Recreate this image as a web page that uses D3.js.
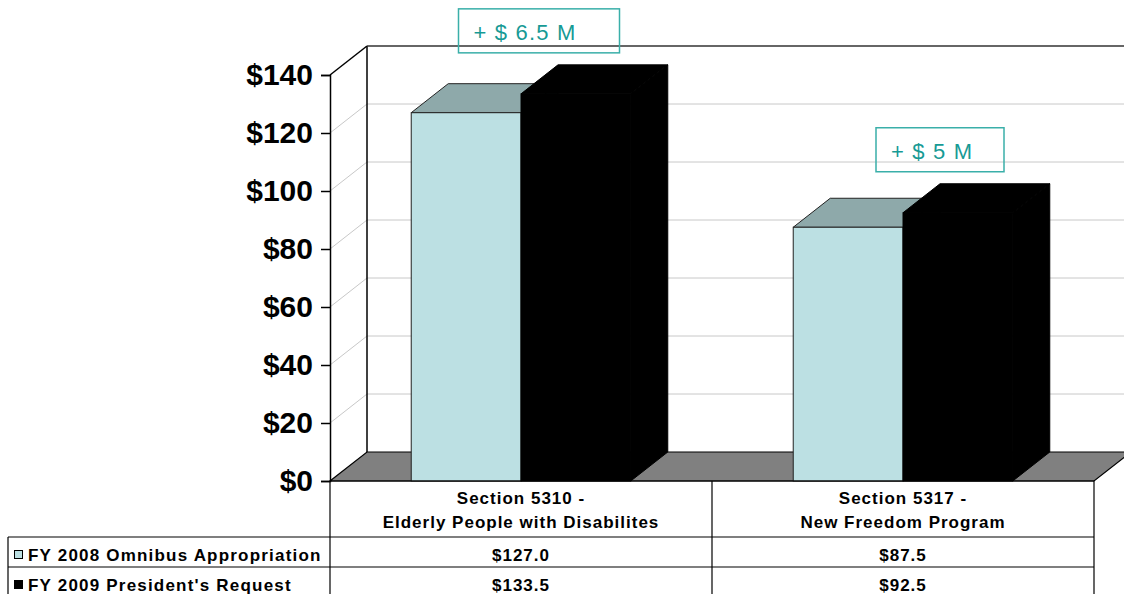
<!DOCTYPE html>
<html><head><meta charset="utf-8">
<script src="https://cdn.jsdelivr.net/npm/d3@7"></script>
<style>body{margin:0;background:#fff}svg{display:block}</style>
</head><body>
<svg id="c" width="1124" height="594"></svg>
<script>
// ---- data ----
const categoryLines = [["Section 5310 -", "Elderly People with Disabilites"], ["Section 5317 -", "New Freedom Program"]];
const seriesNames = ["FY 2008 Omnibus Appropriation", "FY 2009 President's Request"];
const fy2008 = [127.0, 87.5];
const fy2009 = [133.5, 92.5];
const yTicks = [0, 20, 40, 60, 80, 100, 120, 140];
const annotationTexts = ["+ $ 6.5 M", "+ $ 5 M"];

// ---- layout ----
const svg = d3.select("#c");
const FONT = "Arial, 'Liberation Sans', sans-serif";
const DX = 37, DY = -29;
const y = d3.scaleLinear().domain([0, 140]).range([481, 75]);
const xCat = d3.scaleBand().domain(d3.range(categoryLines.length)).range([330, 1094]);
const xSer = d3.scaleBand().domain([0, 1]).range([0, xCat.bandwidth()]).paddingInner(0).paddingOuter(0.74);
const seriesVals = [fy2008, fy2009];
const colors = [
  {front: "#BCE0E3", top: "#8EA9AA", side: "#6F8E90", stroke: "#222"},
  {front: "#000", top: "#000", side: "#000", stroke: "#000"}
];
const x0 = 330, x1 = 1094;

// gridlines (side wall diagonal + back wall)
const grid = svg.append("g");
yTicks.filter(t => t > 0 && t < 140).forEach(t => {
  grid.append("line").attr("x1", x0).attr("y1", y(t)).attr("x2", x0 + DX).attr("y2", y(t) + DY)
    .attr("stroke", "#c8c8c8").attr("stroke-width", 1);
  grid.append("line").attr("x1", x0 + DX).attr("y1", y(t) + DY).attr("x2", 1124).attr("y2", y(t) + DY)
    .attr("stroke", "#c8c8c8").attr("stroke-width", 1);
});
// walls
svg.append("line").attr("x1", x0 + DX).attr("y1", y(140) + DY).attr("x2", x0 + DX).attr("y2", y(0) + DY).attr("stroke", "#000").attr("stroke-width", 1.5);
svg.append("line").attr("x1", x0 + DX).attr("y1", y(140) + DY).attr("x2", 1124).attr("y2", y(140) + DY).attr("stroke", "#333").attr("stroke-width", 1.5);
svg.append("line").attr("x1", x0).attr("y1", y(140)).attr("x2", x0 + DX).attr("y2", y(140) + DY).attr("stroke", "#000").attr("stroke-width", 1.5);
// floor
svg.append("polygon")
  .attr("points", [[x0, y(0)], [x1, y(0)], [x1 + DX, y(0) + DY], [x0 + DX, y(0) + DY]].map(p => p.join(",")).join(" "))
  .attr("fill", "#808080").attr("stroke", "#000").attr("stroke-width", 1.2);

// bars
const bars = svg.append("g");
categoryLines.forEach((c, ci) => {
  seriesVals.forEach((vals, si) => {
    const v = vals[ci];
    const a = xCat(ci) + xSer(si), b = a + xSer.bandwidth();
    const yt = y(v), yb = y(0);
    const col = colors[si];
    bars.append("polygon").attr("points", [[b, yt], [b + DX, yt + DY], [b + DX, yb + DY], [b, yb]].map(p => p.join(",")).join(" "))
      .attr("fill", col.side).attr("stroke", col.stroke).attr("stroke-width", 1);
    bars.append("polygon").attr("points", [[a, yt], [b, yt], [b + DX, yt + DY], [a + DX, yt + DY]].map(p => p.join(",")).join(" "))
      .attr("fill", col.top).attr("stroke", col.stroke).attr("stroke-width", 1);
    bars.append("rect").attr("x", a).attr("y", yt).attr("width", b - a).attr("height", yb - yt)
      .attr("fill", col.front).attr("stroke", col.stroke).attr("stroke-width", 1);
  });
});

// front axis
const axis = d3.axisLeft(y).tickValues(yTicks).tickSize(9).tickPadding(8).tickFormat(d => "$" + d);
const ax = svg.append("g").attr("transform", `translate(${x0},0)`).call(axis);
ax.select(".domain").attr("stroke", "#000").attr("stroke-width", 1.5);
ax.selectAll(".tick line").attr("stroke", "#000").attr("stroke-width", 1.5);
ax.selectAll(".tick text").attr("font-family", FONT).attr("font-size", 30).attr("font-weight", "bold").attr("fill", "#000");

// annotations
const annDx = [18, 37], annW = [161, 128], annH = 44, annGap = 12;
annotationTexts.forEach((t, i) => {
  const top = y(Math.max(fy2008[i], fy2009[i])) + DY - annGap - annH;
  const cx = xCat(i) + xCat.bandwidth() / 2 + annDx[i];
  const left = cx - annW[i] / 2;
  svg.append("rect").attr("x", left).attr("y", top).attr("width", annW[i]).attr("height", annH)
    .attr("fill", "none").attr("stroke", "#3AAFA9").attr("stroke-width", 1.5);
  svg.append("text").attr("x", left + 15).attr("y", top + 31).text(t)
    .attr("font-family", FONT).attr("font-size", 22).attr("letter-spacing", 1.2).attr("fill", "#179A95");
});

// data table
const tbl = svg.append("g").attr("stroke", "#000").attr("stroke-width", 1.2);
const rowY = [481, 537, 567, 597];
tbl.append("line").attr("x1", x0).attr("x2", x1).attr("y1", rowY[0]).attr("y2", rowY[0]);
[1, 2, 3].forEach(r => tbl.append("line").attr("x1", 8).attr("x2", x1).attr("y1", rowY[r]).attr("y2", rowY[r]));
[x0, xCat(1), x1].forEach(xx => tbl.append("line").attr("x1", xx).attr("x2", xx).attr("y1", rowY[0]).attr("y2", rowY[3]));
tbl.append("line").attr("x1", 8).attr("x2", 8).attr("y1", rowY[1]).attr("y2", rowY[3]);

const txt = svg.append("g").attr("font-family", FONT).attr("font-weight", "bold").attr("font-size", 17)
  .attr("letter-spacing", 1).attr("fill", "#000");
categoryLines.forEach((lines, ci) => {
  const cx = xCat(ci) + xCat.bandwidth() / 2;
  lines.forEach((l, li) => txt.append("text").attr("x", cx).attr("y", 504 + li * 24).attr("text-anchor", "middle").text(l));
  seriesVals.forEach((vals, si) => txt.append("text").attr("x", cx).attr("y", rowY[si + 1] + 24)
    .attr("text-anchor", "middle").text("$" + d3.format(".1f")(vals[ci])));
});
seriesNames.forEach((n, si) => {
  const base = rowY[si + 1] + 24;
  svg.append("rect").attr("x", 14.5).attr("y", base - 10.5).attr("width", 8).attr("height", 8)
    .attr("fill", colors[si].front).attr("stroke", "#000").attr("stroke-width", 1);
  txt.append("text").attr("x", 28).attr("y", base).attr("letter-spacing", 1.2).text(n);
});
</script>
</body></html>
